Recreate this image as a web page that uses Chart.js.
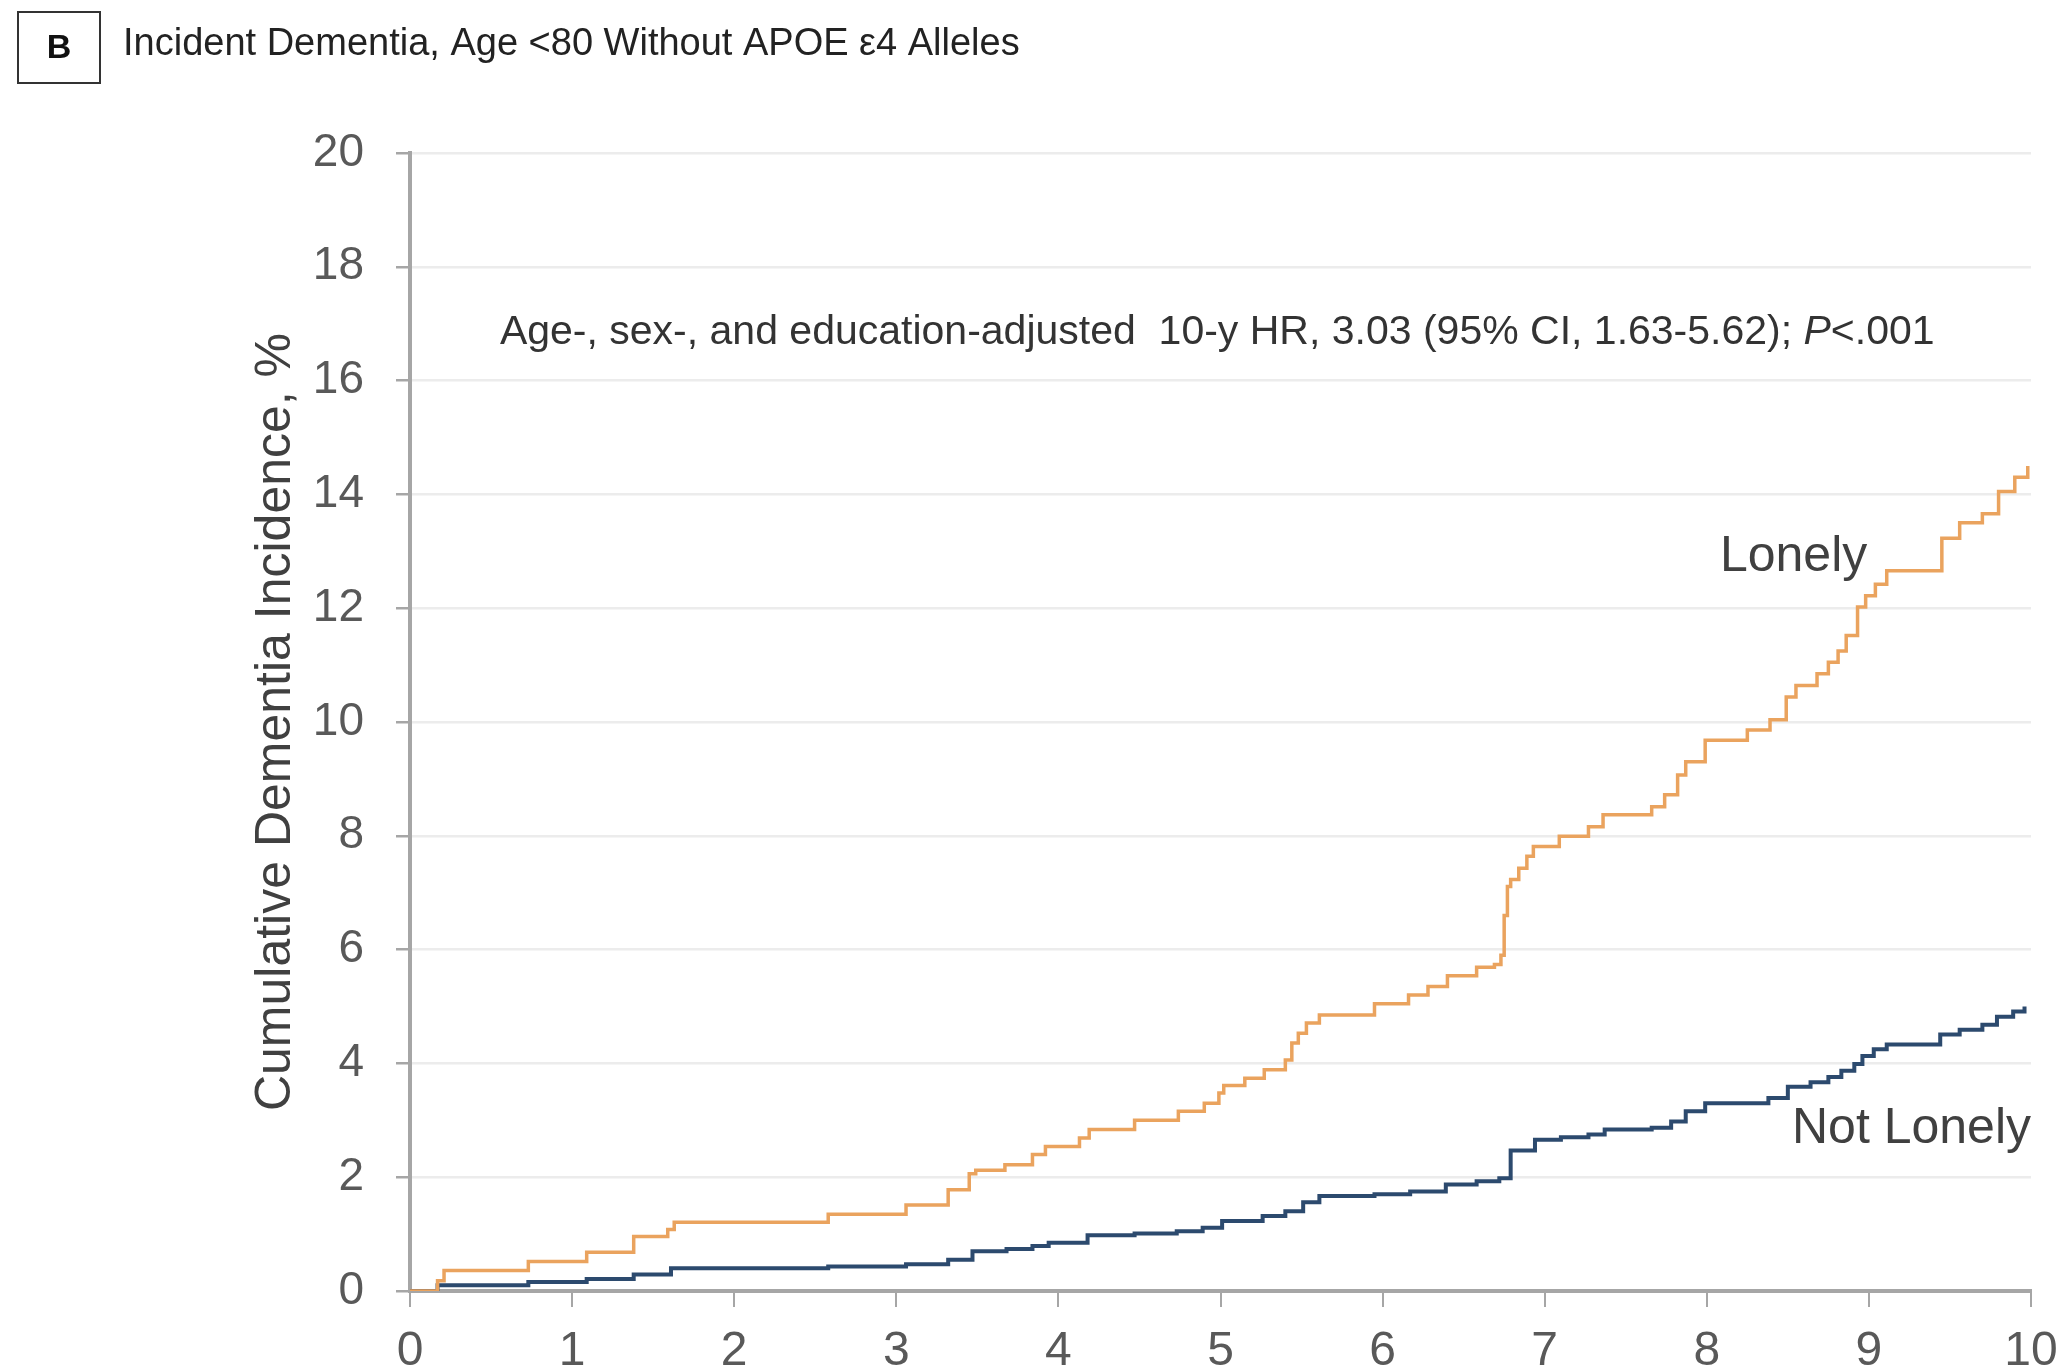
<!DOCTYPE html>
<html lang="en">
<head>
    <meta charset="UTF-8">
    <title>Incident Dementia, Age &lt;80 Without APOE ε4 Alleles</title>
    <script src="https://cdn.jsdelivr.net/npm/chart.js"></script>
    <style>
        body { margin: 0; background: #fff; }
        canvas { display: block; }
    </style>
</head>
<body>
    <canvas id="km-chart" width="2066" height="1372"></canvas>
    <script>
// Years of follow-up at which each curve steps up, and the cumulative incidence (%) after the step
const lonelyYears = [0, 0.17, 0.21, 0.73, 1.09, 1.38, 1.59, 1.63, 2.58, 3.06, 3.32, 3.45, 3.49, 3.67, 3.84, 3.92,
    4.13, 4.19, 4.47, 4.74, 4.90, 4.99, 5.02, 5.15, 5.27, 5.40, 5.44, 5.48, 5.53, 5.61, 5.95, 6.16, 6.28, 6.40,
    6.58, 6.69, 6.73, 6.75, 6.77, 6.79, 6.84, 6.89, 6.93, 7.09, 7.27, 7.36, 7.66, 7.74, 7.82, 7.87, 7.99, 8.25,
    8.39, 8.49, 8.55, 8.68, 8.75, 8.81, 8.86, 8.93, 8.98, 9.04, 9.11, 9.45, 9.56, 9.70, 9.80, 9.90, 9.98];
const lonelyPct = [0, 0.18, 0.36, 0.52, 0.68, 0.96, 1.08, 1.21, 1.35, 1.51, 1.78, 2.06, 2.12, 2.22, 2.40, 2.54,
    2.69, 2.84, 3.00, 3.16, 3.30, 3.48, 3.61, 3.74, 3.89, 4.06, 4.36, 4.53, 4.71, 4.85, 5.05, 5.20, 5.35, 5.54,
    5.69, 5.74, 5.90, 6.60, 7.11, 7.23, 7.43, 7.64, 7.81, 7.99, 8.16, 8.37, 8.51, 8.72, 9.07, 9.30, 9.68, 9.86,
    10.04, 10.44, 10.64, 10.85, 11.05, 11.25, 11.52, 12.02, 12.22, 12.42, 12.66, 13.23, 13.50, 13.66, 14.05, 14.30, 14.50];

const notLonelyYears = [0, 0.17, 0.73, 1.09, 1.38, 1.61, 2.58, 3.06, 3.32, 3.47, 3.68, 3.84, 3.94, 4.18, 4.47,
    4.73, 4.89, 5.01, 5.26, 5.40, 5.51, 5.61, 5.95, 6.17, 6.39, 6.58, 6.72, 6.79, 6.94, 7.10, 7.27, 7.37, 7.66,
    7.78, 7.87, 7.99, 8.38, 8.50, 8.64, 8.75, 8.83, 8.91, 8.96, 9.03, 9.11, 9.44, 9.56, 9.70, 9.79, 9.89, 9.96];
const notLonelyPct = [0, 0.10, 0.16, 0.21, 0.29, 0.40, 0.43, 0.47, 0.55, 0.70, 0.74, 0.79, 0.85, 0.98, 1.01,
    1.05, 1.11, 1.23, 1.32, 1.40, 1.56, 1.67, 1.70, 1.75, 1.87, 1.93, 1.98, 2.47, 2.66, 2.70, 2.75, 2.84, 2.87,
    2.98, 3.16, 3.30, 3.39, 3.59, 3.67, 3.76, 3.87, 3.99, 4.13, 4.25, 4.33, 4.51, 4.59, 4.68, 4.82, 4.91, 5.00];

const xRange = [0, 10];
const yRange = [0, 20];
const yStep = 2;

const panelLetter = "B";
const panelTitle = "Incident Dementia, Age <80 Without APOE \u03b54 Alleles";
const yTitle = "Cumulative Dementia Incidence, %";
const hrNote = ["Age-, sex-, and education-adjusted  10-y HR, 3.03 (95% CI, 1.63-5.62); ", "P", "<.001"];

const toPoints = (xs, ys) => xs.map((x, i) => ({ x: x, y: ys[i] }));

const FONT = "'Liberation Sans', Arial, sans-serif";

// title, HR note and curve labels
const textPlugin = {
    id: "chartText",
    afterDraw(chart) {
        const ctx = chart.ctx;
        const xs = chart.scales.x, ys = chart.scales.y;
        ctx.save();

        // panel letter in a box
        ctx.strokeStyle = "#333";
        ctx.lineWidth = 2;
        ctx.strokeRect(18, 12, 82, 71);
        ctx.fillStyle = "#111";
        ctx.font = "bold 34px " + FONT;
        ctx.textAlign = "center";
        ctx.textBaseline = "middle";
        ctx.fillText(panelLetter, 59, 49);

        ctx.font = "38px " + FONT;
        ctx.fillStyle = "#222";
        ctx.textAlign = "left";
        ctx.fillText(panelTitle, 123, 45);

        // HR note, P in italic
        ctx.fillStyle = "#333";
        const normal = "41px " + FONT, italic = "italic 41px " + FONT;
        ctx.font = normal;
        const w1 = ctx.measureText(hrNote[0]).width, w3 = ctx.measureText(hrNote[2]).width;
        ctx.font = italic;
        const w2 = ctx.measureText(hrNote[1]).width;
        let x = xs.getPixelForValue(4.98) - (w1 + w2 + w3) / 2;
        const y = ys.getPixelForValue(16.85);
        ctx.font = normal;
        ctx.fillText(hrNote[0], x, y);
        x += w1;
        ctx.font = italic;
        ctx.fillText(hrNote[1], x, y);
        x += w2;
        ctx.font = normal;
        ctx.fillText(hrNote[2], x, y);

        // curve labels
        ctx.font = "50px " + FONT;
        ctx.fillStyle = "#404040";
        ctx.textAlign = "right";
        ctx.fillText("Lonely", xs.getPixelForValue(8.99), ys.getPixelForValue(12.9));
        ctx.fillText("Not Lonely", xs.getPixelForValue(10.0), ys.getPixelForValue(2.85));
        ctx.restore();
    }
};

new Chart(document.getElementById("km-chart").getContext("2d"), {
    type: "line",
    data: {
        datasets: [{
            label: "Lonely",
            data: toPoints(lonelyYears, lonelyPct),
            borderColor: "#EAA35E",
            borderWidth: 3.5,
            pointRadius: 0,
            stepped: true,
            fill: false
        }, {
            label: "Not Lonely",
            data: toPoints(notLonelyYears, notLonelyPct),
            borderColor: "#2C4A6E",
            borderWidth: 4,
            pointRadius: 0,
            stepped: true,
            fill: false
        }]
    },
    options: {
        responsive: false,
        animation: false,
        layout: { padding: { top: 153, right: 35, left: 0, bottom: 0 } },
        plugins: {
            legend: { display: false },
            tooltip: { enabled: false }
        },
        scales: {
            x: {
                type: "linear",
                min: xRange[0],
                max: xRange[1],
                afterFit: s => { s.height = 81; s.paddingLeft = 0; s.paddingRight = 0; },
                border: { color: "#A6A6A6", width: 4 },
                grid: { drawOnChartArea: false, color: "#A6A6A6", tickColor: "#A6A6A6", tickLength: 16, lineWidth: 2 },
                ticks: {
                    stepSize: 1,
                    padding: 16,
                    color: "#595959",
                    font: { family: FONT, size: 48 }
                }
            },
            y: {
                min: yRange[0],
                max: yRange[1],
                afterFit: s => { s.width = 410; s.paddingTop = 0; s.paddingBottom = 0; },
                border: { color: "#A6A6A6", width: 4 },
                grid: { color: "#ECECEC", tickColor: "#A6A6A6", tickLength: 14, lineWidth: 2.5 },
                ticks: {
                    stepSize: yStep,
                    padding: 32,
                    color: "#595959",
                    font: { family: FONT, size: 46 }
                },
                title: {
                    display: true,
                    text: yTitle,
                    color: "#404040",
                    padding: { top: 246, bottom: 0 },
                    font: { family: FONT, size: 50 }
                }
            }
        }
    },
    plugins: [textPlugin]
});
    </script>
</body>
</html>
